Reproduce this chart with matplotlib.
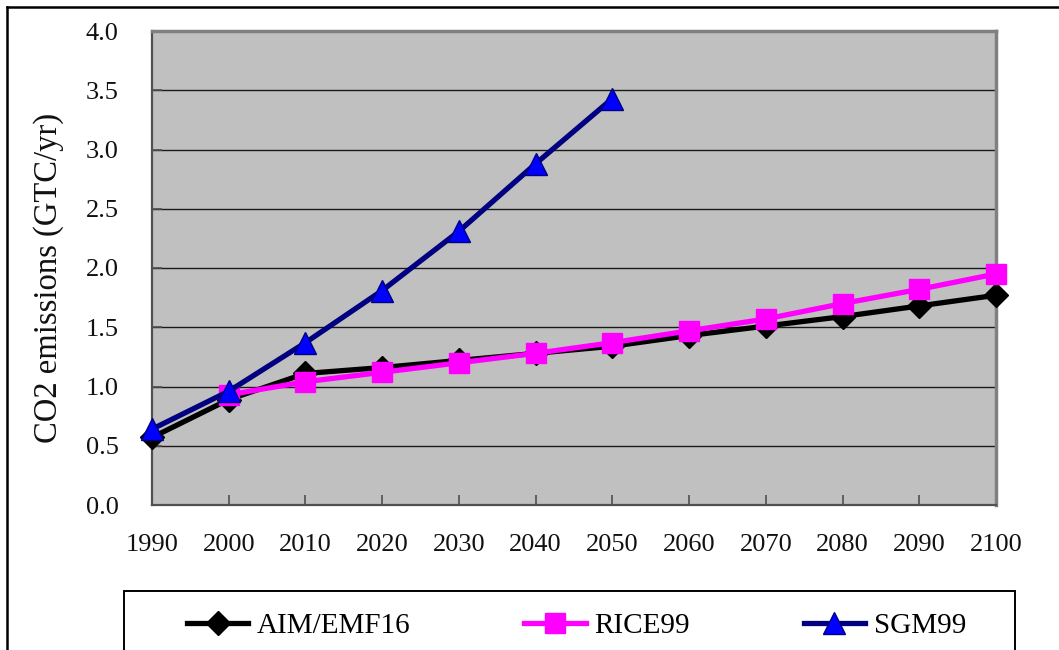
import matplotlib
matplotlib.use("Agg")
import matplotlib.pyplot as plt
from matplotlib.patches import Rectangle
from matplotlib.lines import Line2D
from matplotlib.ticker import FormatStrFormatter

# Emission projections (GtC/yr)
years = [1990, 2000, 2010, 2020, 2030, 2040, 2050, 2060, 2070, 2080, 2090, 2100]
aim_emf16 = [0.57, 0.89, 1.11, 1.16, 1.22, 1.28, 1.34, 1.43, 1.51, 1.59, 1.68, 1.77]
rice_years = [2000, 2010, 2020, 2030, 2040, 2050, 2060, 2070, 2080, 2090, 2100]
rice99 = [0.93, 1.04, 1.12, 1.20, 1.28, 1.37, 1.47, 1.57, 1.70, 1.82, 1.95]
sgm_years = [1990, 2000, 2010, 2020, 2030, 2040, 2050]
sgm99 = [0.64, 0.96, 1.37, 1.81, 2.31, 2.88, 3.43]
y_ticks = [0.0, 0.5, 1.0, 1.5, 2.0, 2.5, 3.0, 3.5, 4.0]

W, H = 1059, 650
fig = plt.figure(figsize=(W / 100, H / 100), dpi=100)
fig.patch.set_facecolor("white")
plt.rcParams["font.family"] = ["Liberation Serif", "DejaVu Serif"]

ax = fig.add_axes([152 / W, 1 - 505 / H, (996 - 152) / W, (505 - 31) / H])
ax.set_facecolor("#C0C0C0")
ax.set_xlim(1990, 2100)
ax.set_ylim(0, 4.0)

ax.set_yticks(y_ticks)
ax.yaxis.set_major_formatter(FormatStrFormatter("%.1f"))
ax.set_xticks(years)
ax.set_xticklabels([str(y) for y in years])
for yv in y_ticks[1:-1]:
    ax.axhline(yv, color="#1a1a1a", lw=1.0, zorder=1)

ax.tick_params(axis="both", direction="in", length=7, width=1.2,
               color="#505050", labelsize=19, labelcolor="#111111")
ax.tick_params(axis="x", pad=21)
ax.tick_params(axis="y", pad=24)

for side in ("left", "bottom"):
    ax.spines[side].set_color("#505050")
    ax.spines[side].set_linewidth(1.6)
for side in ("top", "right"):
    ax.spines[side].set_color("#808080")
    ax.spines[side].set_linewidth(2.5)

ax.plot(years, aim_emf16, color="black", lw=3.8, marker="D", ms=12,
        mfc="black", mec="black", zorder=3, clip_on=False, label="AIM/EMF16")
ax.plot(rice_years, rice99, color="#FF00FF", lw=3.8, marker="s", ms=14,
        mfc="#FF00FF", mec="#FF00FF", zorder=4, clip_on=False, label="RICE99")
ax.plot(sgm_years, sgm99, color="#000080", lw=3.8, marker="^", ms=16,
        mfc="#0000FF", mec="#000080", mew=1.0, zorder=5, clip_on=False,
        label="SGM99")

ax.set_ylabel("CO2 emissions (GTC/yr)", fontsize=23.5, color="#111111")
ax.yaxis.set_label_coords((64 - 152) / (996 - 152), 0.48)

# outer chart frame (top and left edges)
fig.add_artist(Line2D([7 / W, 7 / W], [0, 1 - 7 / H], transform=fig.transFigure,
                      color="black", lw=1.8))
fig.add_artist(Line2D([7 / W, 1], [1 - 7 / H, 1 - 7 / H], transform=fig.transFigure,
                      color="black", lw=1.8))

# legend frame
fig.add_artist(Rectangle((124 / W, -0.05), (1015 - 124) / W, (H - 591) / H + 0.05,
                         transform=fig.transFigure, fill=False, ec="black", lw=1.4))

handles, labels = ax.get_legend_handles_labels()
fig.legend(handles, labels, ncol=3, frameon=False, fontsize=21,
           loc="center left", bbox_to_anchor=(187 / W, 1 - 626 / H),
           handlelength=2.1, handletextpad=0.3, columnspacing=3.9,
           borderaxespad=0, borderpad=0)

fig.savefig("out.png", dpi=100)
